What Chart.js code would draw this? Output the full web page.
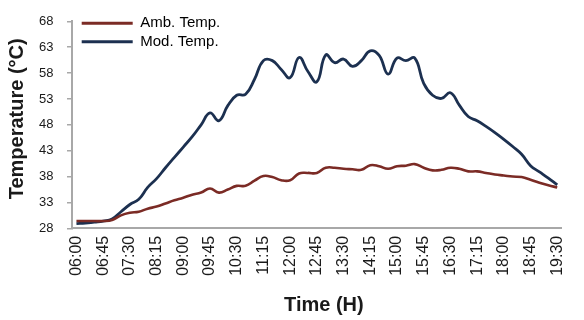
<!DOCTYPE html>
<html>
<head>
<meta charset="utf-8">
<script src="https://cdn.jsdelivr.net/npm/chart.js@4/dist/chart.umd.min.js"></script>
<style>
  html, body { margin: 0; padding: 0; background: #ffffff; }
  #wrap { width: 584px; height: 320px; position: relative; }
</style>
</head>
<body>
<div id="wrap"><canvas id="c" width="584" height="320"></canvas></div>
<script>
// Time categories, every 15 minutes from 06:00 to 19:30
const timeLabels = [
  "06:00","06:15","06:30","06:45","07:00","07:15","07:30","07:45","08:00","08:15",
  "08:30","08:45","09:00","09:15","09:30","09:45","10:00","10:15","10:30","10:45",
  "11:00","11:15","11:30","11:45","12:00","12:15","12:30","12:45","13:00","13:15",
  "13:30","13:45","14:00","14:15","14:30","14:45","15:00","15:15","15:30","15:45",
  "16:00","16:15","16:30","16:45","17:00","17:15","17:30","17:45","18:00","18:15",
  "18:30","18:45","19:00","19:15","19:30"
];

// Ambient temperature (°C)
const ambTemp = [
  29.4, 29.4, 29.4, 29.4, 29.6, 30.5, 31.0, 31.2, 31.8, 32.2,
  32.8, 33.4, 33.9, 34.5, 34.9, 35.7, 34.9, 35.5, 36.2, 36.2,
  37.2, 38.1, 37.9, 37.3, 37.3, 38.6, 38.7, 38.7, 39.7, 39.7,
  39.5, 39.4, 39.3, 40.2, 40.0, 39.5, 40.0, 40.1, 40.4, 39.7,
  39.2, 39.3, 39.7, 39.5, 39.0, 39.0, 38.7, 38.4, 38.2, 38.0,
  37.9, 37.4, 36.8, 36.3, 35.9
];

// Module temperature (°C)
const modTemp = [
  28.9, 29.0, 29.2, 29.4, 29.8, 31.2, 32.6, 33.6, 35.9, 37.6,
  39.7, 41.7, 43.7, 45.7, 48.0, 50.3, 48.8, 51.7, 53.7, 53.9,
  56.8, 60.4, 60.4, 58.7, 57.1, 61.0, 58.3, 56.3, 61.5, 60.0,
  60.7, 59.3, 60.4, 62.3, 61.4, 57.8, 60.9, 60.4, 60.9, 56.0,
  53.7, 53.1, 54.2, 51.8, 49.6, 48.8, 47.7, 46.5, 45.2, 43.8,
  42.3, 40.1, 38.9, 37.7, 36.4
];

// Y-axis ticks
const yMin = 28, yMax = 68, yStep = 5;

const FONT = "'Liberation Sans', Arial, Helvetica, sans-serif";

// Places the legend at the top-left of the plot and nudges the axis titles
const layoutTweaks = {
  id: 'layoutTweaks',
  afterLayout(chart) {
    const l = chart.legend;
    if (l) { l.left = 78.3; l.top = 12.4; }
    const shift = (scale, dx, dy) => {
      if (!scale || scale._titleShifted) return;
      const orig = scale.drawTitle.bind(scale);
      scale.drawTitle = function () {
        const ctx = this.ctx;
        ctx.save();
        ctx.translate(dx, dy);
        orig();
        ctx.restore();
      };
      scale._titleShifted = true;
    };
    shift(chart.scales.x, 7, 0);
    shift(chart.scales.y, 0, -6);
  }
};

new Chart(document.getElementById('c'), {
  type: 'line',
  data: {
    labels: timeLabels,
    datasets: [
      { label: 'Amb. Temp.', data: ambTemp, borderColor: '#7b2b25', backgroundColor: '#7b2b25',
        borderWidth: 2.6, pointRadius: 0, tension: 0.45, fill: false },
      { label: 'Mod. Temp.', data: modTemp, borderColor: '#1c3050', backgroundColor: '#1c3050',
        borderWidth: 2.8, pointRadius: 0, tension: 0.45, fill: false }
    ]
  },
  options: {
    responsive: false,
    animation: false,
    devicePixelRatio: 1,
    layout: { padding: { top: 18.6, right: 7.5, bottom: 0, left: 0 } },
    plugins: {
      tooltip: { enabled: false },
      legend: {
        position: 'chartArea',
        align: 'start',
        labels: {
          boxWidth: 51, boxHeight: 3, padding: 3.4,
          color: '#1a1a1a',
          font: { family: FONT, size: 15 },
          generateLabels: (chart) => chart.data.datasets.map((d, i) => ({
            text: d.label, fillStyle: d.borderColor, strokeStyle: d.borderColor,
            lineWidth: 0, hidden: false, datasetIndex: i
          }))
        }
      }
    },
    scales: {
      x: {
        offset: true,
        grid: { display: false, drawTicks: false },
        border: { display: true, color: '#a8a8a8', width: 2 },
        ticks: {
          autoSkip: false, minRotation: 90, maxRotation: 90, padding: 7.5,
          color: '#1a1a1a', font: { family: FONT, size: 16 },
          callback: (v, i) => (i % 3 === 0 ? timeLabels[i] : '')
        },
        title: {
          display: true, text: 'Time (H)', color: '#1a1a1a',
          font: { family: FONT, size: 20, weight: 'bold', lineHeight: 1.2 },
          padding: { top: 0, bottom: 3 }
        },
        afterFit: (s) => { s.height = 91.7; }
      },
      y: {
        min: yMin, max: yMax,
        grid: { display: true, drawOnChartArea: false, drawTicks: true, tickLength: 5, color: '#a8a8a8', lineWidth: 1.5 },
        border: { display: true, color: '#a8a8a8', width: 2 },
        ticks: { stepSize: yStep, padding: 13.5, color: '#1a1a1a', font: { family: FONT, size: 13 } },
        title: {
          display: true, text: 'Temperature (°C)', color: '#1a1a1a',
          font: { family: FONT, size: 20, weight: 'bold', lineHeight: 1.2 },
          padding: { top: 5, bottom: 0 }
        },
        afterFit: (s) => { s.width = 72; }
      }
    }
  },
  plugins: [layoutTweaks]
});
</script>
</body>
</html>
